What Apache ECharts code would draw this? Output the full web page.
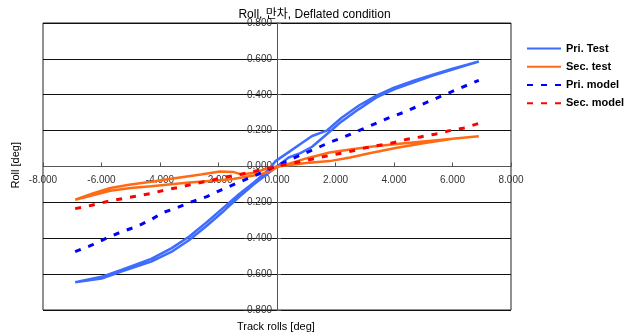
<!DOCTYPE html>
<html>
<head>
<meta charset="utf-8">
<script src="https://cdn.jsdelivr.net/npm/echarts@6/dist/echarts.min.js"></script>
<style>html,body{margin:0;padding:0;background:#fff}#c{width:629px;height:336px}</style>
</head>
<body>
<div id="c"></div>
<script>
var xTicks = [-8, -6, -4, -2, 0, 2, 4, 6, 8];
var yTicks = [-0.8, -0.6, -0.4, -0.2, 0, 0.2, 0.4, 0.6, 0.8];

var priTest = [
  [-6.9,-0.645],[-6.0,-0.625],[-5.3,-0.585],[-4.3,-0.53],[-3.6,-0.475],[-3.0,-0.41],[-2.4,-0.33],[-1.8,-0.245],
  [-1.3,-0.17],[-0.8,-0.1],[-0.4,-0.05],[0,0.0],[0.4,0.05],[0.8,0.075],[1.2,0.11],[1.7,0.18],[2.2,0.25],
  [2.8,0.32],[3.4,0.385],[4.0,0.43],[4.7,0.47],[5.3,0.505],[6.0,0.54],[6.5,0.565],[6.9,0.585],
  [6.5,0.567],[6.0,0.545],[5.3,0.51],[4.7,0.48],[4.0,0.44],[3.4,0.395],[2.8,0.34],[2.2,0.27],[1.7,0.2],
  [1.2,0.17],[0.8,0.125],[0.4,0.08],[-0.05,0.03],[-0.3,-0.02],[-0.8,-0.09],[-1.3,-0.155],[-1.8,-0.225],
  [-2.4,-0.31],[-3.0,-0.39],[-3.6,-0.455],[-4.3,-0.515],[-5.3,-0.575],[-6.0,-0.615],[-6.9,-0.645]
];
var secTest = [
  [-6.9,-0.185],[-6.3,-0.15],[-5.7,-0.12],[-5.0,-0.1],[-4.3,-0.085],[-3.5,-0.065],[-2.6,-0.045],[-1.95,-0.028],
  [-1.5,-0.03],[-1.2,-0.045],[-0.8,-0.035],[-0.3,-0.01],[0,0],[0.5,0.01],[1.0,0.02],[1.8,0.03],[2.5,0.05],
  [3.2,0.075],[4.1,0.105],[5.0,0.13],[6.0,0.155],[6.9,0.168],
  [6.0,0.155],[5.0,0.14],[4.1,0.125],[3.2,0.11],[2.5,0.095],[1.8,0.078],[1.0,0.045],[0.5,0.02],[0,-0.005],
  [-0.34,-0.034],[-0.8,-0.05],[-1.5,-0.07],[-2.2,-0.08],[-3.1,-0.09],[-4.3,-0.11],[-5.0,-0.12],[-5.7,-0.135],
  [-6.3,-0.16],[-6.9,-0.185]
];
var priModel = [
  [-6.9,-0.475],[-6.3,-0.436],[-5.8,-0.397],[-5.3,-0.363],[-4.8,-0.335],[-4.3,-0.296],[-3.9,-0.257],[-3.4,-0.229],
  [-2.9,-0.196],[-2.4,-0.168],[-1.9,-0.13],[-1.4,-0.095],[-0.9,-0.06],[-0.4,-0.025],[0,0.005],[0.4,0.035],
  [0.9,0.07],[1.4,0.105],[1.8,0.135],[2.3,0.165],[2.8,0.2],[3.3,0.235],[3.8,0.27],[4.3,0.3],[4.8,0.335],
  [5.3,0.37],[5.8,0.405],[6.3,0.44],[6.9,0.48]
];
var secModel = [
  [-6.9,-0.235],[-6.3,-0.215],[-5.8,-0.195],[-5.3,-0.18],[-4.8,-0.165],[-4.3,-0.15],[-3.8,-0.13],[-3.3,-0.115],
  [-2.8,-0.095],[-2.3,-0.08],[-1.8,-0.06],[-1.3,-0.045],[-0.8,-0.028],[-0.3,-0.01],[0,0.0],[0.4,0.015],
  [0.9,0.03],[1.4,0.048],[1.9,0.065],[2.4,0.08],[2.9,0.1],[3.4,0.115],[3.9,0.13],[4.4,0.15],[4.9,0.165],
  [5.4,0.18],[5.9,0.2],[6.4,0.215],[6.9,0.24]
];

var FONT = '"Liberation Sans", Arial, "Noto Sans CJK KR", sans-serif';
var GRID = {left: 43, right: 118, top: 23, bottom: 26};
var W = 629, H = 336;
var plotW = W - GRID.left - GRID.right, plotH = H - GRID.top - GRID.bottom;
var xMin = xTicks[0], xMax = xTicks[xTicks.length-1];
var yMin = yTicks[0], yMax = yTicks[yTicks.length-1];
// shift the axes (with their labels) onto the zero lines
var xAxisOffset = -plotH * (0 - yMin) / (yMax - yMin);
var yAxisOffset = -plotW * (0 - xMin) / (xMax - xMin);

var chart = echarts.init(document.getElementById('c'), null, {renderer: 'canvas'});
chart.setOption({
  animation: false,
  backgroundColor: '#fff',
  textStyle: {fontFamily: FONT},
  title: {
    text: 'Roll, 만차, Deflated condition',
    left: 'center', top: 4,
    textStyle: {fontFamily: FONT, fontSize: 12, fontWeight: 'normal', color: '#000'}
  },
  grid: {left: GRID.left, right: GRID.right, top: GRID.top, bottom: GRID.bottom, show: true, borderColor: '#222', borderWidth: 1, backgroundColor: 'transparent'},
  legend: {
    orient: 'vertical', left: 521, top: 38,
    itemWidth: 34, itemHeight: 14, itemGap: 7,
    itemStyle: {opacity: 0},
    textStyle: {fontFamily: FONT, fontSize: 11, fontWeight: 'bold', color: '#000'},
    data: ['Pri. Test', 'Sec. test', 'Pri. model', 'Sec. model']
  },
  xAxis: {
    type: 'value', min: xMin, max: xMax, interval: 2,
    offset: xAxisOffset,
    axisLine: {onZero: false, lineStyle: {color: '#555', width: 1}},
    axisTick: {show: true, inside: true, length: 4, lineStyle: {color: '#555'}},
    axisLabel: {margin: 9, fontSize: 10, color: '#333', fontFamily: FONT, formatter: function(v){return v.toFixed(3);}},
    splitLine: {show: false}
  },
  yAxis: {
    type: 'value', min: yMin, max: yMax, interval: 0.2,
    offset: yAxisOffset,
    axisLine: {onZero: false, lineStyle: {color: '#555', width: 1}},
    axisTick: {show: true, inside: true, length: 4, lineStyle: {color: '#555'}},
    axisLabel: {margin: 5, fontSize: 10, color: '#333', fontFamily: FONT, formatter: function(v){return v.toFixed(3);}},
    splitLine: {show: true, lineStyle: {color: '#111', width: 1}}
  },
  graphic: [
    {type: 'text', left: 10, top: 142, rotation: Math.PI/2, style: {text: 'Roll [deg]', font: '11px ' + FONT, fill: '#000'}},
    {type: 'text', left: 237, top: 321, style: {text: 'Track rolls [deg]', font: '11px ' + FONT, fill: '#000'}}
  ],
  series: [
    {name: 'Pri. Test', type: 'line', data: priTest, symbol: 'none', color: '#3d6cff', lineStyle: {width: 2.5, color: '#3d6cff'}, z: 3},
    {name: 'Sec. test', type: 'line', data: secTest, symbol: 'none', color: '#ff6a14', lineStyle: {width: 2.5, color: '#ff6a14'}, z: 3},
    {name: 'Pri. model', type: 'line', data: priModel, symbol: 'none', color: '#0000ff', lineStyle: {width: 3, type: [6, 8], color: '#0000ff'}, z: 4},
    {name: 'Sec. model', type: 'line', data: secModel, symbol: 'none', color: '#ff0000', lineStyle: {width: 3, type: [6, 8], color: '#ff0000'}, z: 4}
  ]
});
</script>
</body>
</html>
